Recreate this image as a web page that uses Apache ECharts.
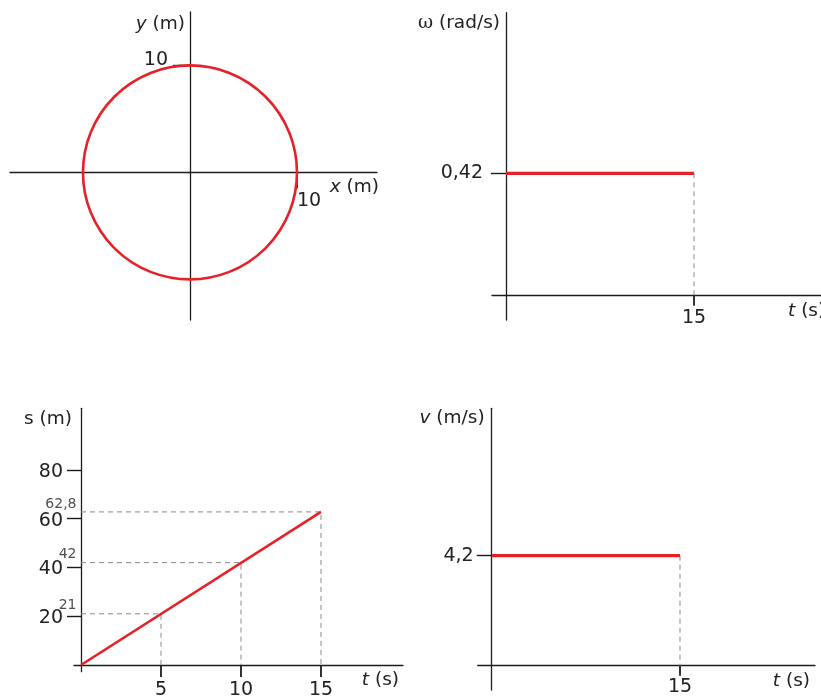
<!DOCTYPE html>
<html>
<head>
<meta charset="utf-8">
<script src="https://cdn.jsdelivr.net/npm/echarts@6/dist/echarts.min.js"></script>
<style>
html,body{margin:0;padding:0;background:#fff;}
#chart{width:821px;height:696px;}
</style>
</head>
<body>
<div id="chart"></div>
<script>
// ---- data ----
const circleCenter = [0, 0];
const circleRadius = 10;
const circleXTicks = [10];
const circleYTicks = [10];

const omegaTime = [0, 15];
const omegaValues = [0.42, 0.42];
const omegaTicks = [0.42];
const omegaTimeTicks = [15];

const sTime = [0, 15];
const sValues = [0, 62.8];
const sMarkTime = [5, 10, 15];
const sMarkValues = [21, 42, 62.8];
const sTicks = [20, 40, 60, 80];
const sTimeTicks = [5, 10, 15];

const vTime = [0, 15];
const vValues = [4.2, 4.2];
const vTicks = [4.2];
const vTimeTicks = [15];

// ---- layout & styles ----
const RED = '#e62129';
const AX = '#1c1c1c';
const DASH = '#8a8a8a';
const FONT = 'DejaVu Sans';
const NAME_SIZE = 18.5;
const comma = v => String(v).replace('.', ',');
function pairs(xs, ys) { return xs.map((x, i) => [x, ys[i]]); }

const panels = [
  { grid: { left: 10, top: 12, width: 367, height: 308 }, x: [-16.82, 17.48], y: [-13.79, 14.99] },
  { grid: { left: 492, top: 12.7, width: 330, height: 307.3 }, x: [-1.117, 25.21], y: [-0.0834, 0.9711] },
  { grid: { left: 74, top: 408.3, width: 329, height: 263.4 }, x: [-0.4375, 20.125], y: [-2.75, 105.31] },
  { grid: { left: 477.7, top: 408.3, width: 337.3, height: 281.7 }, x: [-1.115, 25.755], y: [-0.928, 9.828] }
];
const grids = panels.map(p => Object.assign({ outerBoundsMode: 'none', containLabel: false }, p.grid));

// axis lines pass through the origin: offset from the grid edge derived from the scale
function yOffset(p) { return -(0 - p.x[0]) / (p.x[1] - p.x[0]) * p.grid.width; }
function xOffset(p) { return -(0 - p.y[0]) / (p.y[1] - p.y[0]) * p.grid.height; }

const richBase = {
  i: { fontFamily: FONT, fontStyle: 'italic', fontSize: NAME_SIZE, color: '#222' },
  w: { fontFamily: 'DejaVu Serif', fontSize: NAME_SIZE, color: '#222' }
};
function nameStyle(align, vAlign, padding) {
  return { fontFamily: FONT, fontSize: NAME_SIZE, color: '#222', align: align, verticalAlign: vAlign,
    padding: padding, rich: richBase };
}
function axis(idx, dim, tickVals, tickLen, labelMargin, labelExtra, name, nameGap, nameTS) {
  const p = panels[idx];
  return {
    type: 'value', gridIndex: idx,
    position: dim === 'x' ? 'bottom' : 'left',
    offset: dim === 'x' ? xOffset(p) : yOffset(p),
    min: p[dim][0], max: p[dim][1],
    splitLine: { show: false },
    axisLine: { show: true, onZero: false, lineStyle: { color: AX, width: 1.3 } },
    axisTick: { show: true, inside: false, customValues: tickVals, length: tickLen,
      lineStyle: { color: AX, width: dim === 'x' ? 1.8 : 1.4 } },
    axisLabel: Object.assign({ show: true, customValues: tickVals, margin: labelMargin, formatter: comma,
      fontFamily: FONT, fontSize: 19, color: '#222' }, labelExtra || {}),
    name: name, nameLocation: 'end', nameGap: nameGap, nameTextStyle: nameTS
  };
}

const raisedLabel = {
  verticalAlign: 'middle',
  formatter: v => '{u|' + comma(v) + '}',
  rich: { u: { fontFamily: FONT, fontSize: 19, color: '#222', padding: [0, 0, 11, 0] } }
};
const loweredLabel = {
  verticalAlign: 'middle',
  formatter: v => '{u|' + comma(v) + '}',
  rich: { u: { fontFamily: FONT, fontSize: 19, color: '#222', padding: [4, 0, 0, 0] } }
};

const xAxes = [
  axis(0, 'x', circleXTicks, 16, 19, { align: 'left' }, '{i|x} (m)', 2, nameStyle('right', 'top', [5, 0, 0, 0])),
  axis(1, 'x', omegaTimeTicks, 10, 13, null, '{i|t} (s)', -34, nameStyle('left', 'top', [6, 0, 0, 0])),
  axis(2, 'x', sTimeTicks, 12, 15.5, null, '{i|t} (s)', -4, nameStyle('right', 'top', [6, 0, 0, 0])),
  axis(3, 'x', vTimeTicks, 10, 12, null, '{i|t} (s)', -5, nameStyle('right', 'top', [6, 0, 0, 0]))
];
const yAxes = [
  axis(0, 'y', circleYTicks, 17, 22, raisedLabel, '{i|y} (m)', -12, nameStyle('right', 'middle', [0, 5, 0, 0])),
  axis(1, 'y', omegaTicks, 15, 23, null, '{w|ω} (rad/s)', -10, nameStyle('right', 'middle', [0, 6, 0, 0])),
  axis(2, 'y', sTicks, 14, 18, loweredLabel, 's (m)', -11, nameStyle('right', 'middle', [0, 9, 0, 0])),
  axis(3, 'y', vTicks, 15, 18, null, '{i|v} (m/s)', -10, nameStyle('right', 'middle', [0, 7, 0, 0]))
];

function solid(idx, data, width) {
  return { type: 'line', xAxisIndex: idx, yAxisIndex: idx, data: data, symbol: 'none',
    lineStyle: { color: RED, width: width }, z: 5, silent: true };
}
function dashed(idx, data) {
  return { type: 'line', xAxisIndex: idx, yAxisIndex: idx, data: data, symbol: 'none',
    lineStyle: { color: DASH, width: 1, type: [5, 4] }, z: 3, silent: true };
}

const series = [
  {
    type: 'custom', xAxisIndex: 0, yAxisIndex: 0, silent: true, z: 5,
    data: [[circleCenter[0], circleCenter[1], circleRadius]],
    renderItem: function (params, api) {
      const c = api.coord([api.value(0), api.value(1)]);
      const r = api.size([api.value(2), 0])[0];
      return { type: 'circle', shape: { cx: c[0], cy: c[1], r: r },
        style: { fill: 'none', stroke: RED, lineWidth: 2.6 } };
    }
  },
  dashed(1, [[omegaTime[1], omegaValues[1]], [omegaTime[1], 0]]),
  solid(1, pairs(omegaTime, omegaValues), 3.2),
  dashed(3, [[vTime[1], vValues[1]], [vTime[1], 0]]),
  solid(3, pairs(vTime, vValues), 3.2)
];
sMarkTime.forEach((t, i) => {
  series.push(dashed(2, [[0, sMarkValues[i]], [t, sMarkValues[i]], [t, 0]]));
});
series.push(solid(2, pairs(sTime, sValues), 2.6));
series.push({
  type: 'scatter', xAxisIndex: 2, yAxisIndex: 2, silent: true, symbolSize: 1,
  itemStyle: { color: 'rgba(0,0,0,0)' },
  data: sMarkValues.map(v => [0, v]),
  label: { show: true, position: 'left', distance: 4, offset: [0, -8],
    formatter: p => comma(p.value[1]), fontFamily: FONT, fontSize: 14, color: '#222' }
});

const chart = echarts.init(document.getElementById('chart'), null, { renderer: 'canvas' });
chart.setOption({
  animation: false,
  backgroundColor: '#ffffff',
  grid: grids,
  xAxis: xAxes,
  yAxis: yAxes,
  series: series
});
</script>
</body>
</html>
